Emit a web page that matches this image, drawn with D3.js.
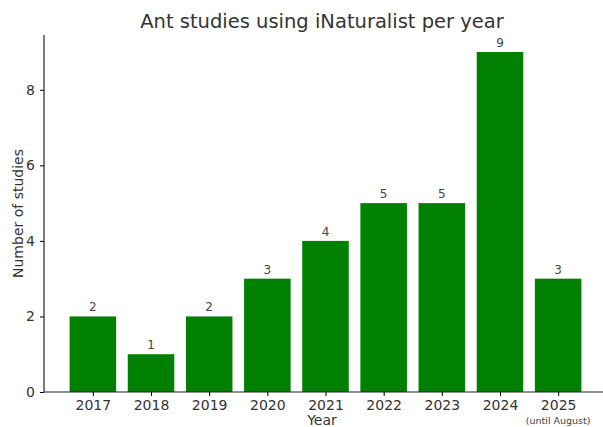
<!DOCTYPE html>
<html>
<head>
<meta charset="utf-8">
<script src="https://cdn.jsdelivr.net/npm/d3@7"></script>
<style>
  body { margin: 0; background: #fff; overflow: hidden; }
  text { font-family: "DejaVu Sans", sans-serif; }
</style>
</head>
<body>
<script>
const years = ["2017", "2018", "2019", "2020", "2021", "2022", "2023", "2024", "2025"];
const studies = [2, 1, 2, 3, 4, 5, 5, 9, 3];
const yTicks = [0, 2, 4, 6, 8];

const width = 603, height = 427;
// the right edge of the axes runs slightly past the picture, as in the reference
const margin = { top: 35, right: -4, bottom: 35, left: 44 };
const iw = width - margin.left - margin.right;
const ih = height - margin.top - margin.bottom;

const svg = d3.select("body").append("svg")
    .attr("width", width)
    .attr("height", height);

const g = svg.append("g")
    .attr("transform", "translate(" + margin.left + "," + margin.top + ")");

// bar positions 0..n-1, width 0.8, 5% margins
const n = years.length;
const x = d3.scaleLinear()
    .domain([-0.4 - 0.05 * (n - 0.2), n - 1 + 0.4 + 0.05 * (n - 0.2)])
    .range([0, iw]);
const y = d3.scaleLinear()
    .domain([0, d3.max(studies) * 1.05])
    .range([ih, 0]);

g.selectAll("rect.bar")
  .data(studies)
  .join("rect")
    .attr("class", "bar")
    .attr("x", (d, i) => x(i - 0.4))
    .attr("width", (d, i) => x(i + 0.4) - x(i - 0.4))
    .attr("y", d => y(d))
    .attr("height", d => y(0) - y(d))
    .attr("fill", "#008000");

g.selectAll("text.val")
  .data(studies)
  .join("text")
    .attr("class", "val")
    .attr("x", (d, i) => x(i))
    .attr("y", d => y(d) - 5)
    .attr("text-anchor", "middle")
    .attr("font-size", 12)
    .attr("fill", "#444")
    .text(d => d);

// axes
const yAxis = d3.axisLeft(y).tickValues(yTicks).tickSize(4).tickPadding(5);
const yg = g.append("g").call(yAxis);
yg.select(".domain").attr("stroke", "#222").attr("stroke-width", 1.2).attr("d", "M0," + ih + "V0");
yg.selectAll("text").attr("font-size", 14).attr("fill", "#333").style("font-family", "DejaVu Sans, sans-serif");

const xAxis = d3.axisBottom(x).tickValues(d3.range(n)).tickFormat(i => years[i]).tickSize(4).tickPadding(4);
const xg = g.append("g").attr("transform", "translate(0," + ih + ")").call(xAxis);
xg.select(".domain").attr("stroke", "#222").attr("stroke-width", 1.2).attr("d", "M0,0H" + iw);
xg.selectAll("text").attr("font-size", 14).attr("fill", "#333").style("font-family", "DejaVu Sans, sans-serif");

g.append("text")
    .attr("x", x(n - 1))
    .attr("y", ih + 32)
    .attr("text-anchor", "middle")
    .attr("font-size", 9.5)
    .attr("fill", "#444")
    .text("(until August)");

// titles
svg.append("text")
    .attr("x", 322)
    .attr("y", 28)
    .attr("text-anchor", "middle")
    .attr("font-size", 19.5)
    .attr("fill", "#333")
    .text("Ant studies using iNaturalist per year");

svg.append("text")
    .attr("x", 322)
    .attr("y", 425)
    .attr("text-anchor", "middle")
    .attr("font-size", 14)
    .attr("fill", "#333")
    .text("Year");

svg.append("text")
    .attr("transform", "translate(23," + (margin.top + ih / 2) + ") rotate(-90)")
    .attr("text-anchor", "middle")
    .attr("font-size", 14)
    .attr("fill", "#333")
    .text("Number of studies");
</script>
</body>
</html>
